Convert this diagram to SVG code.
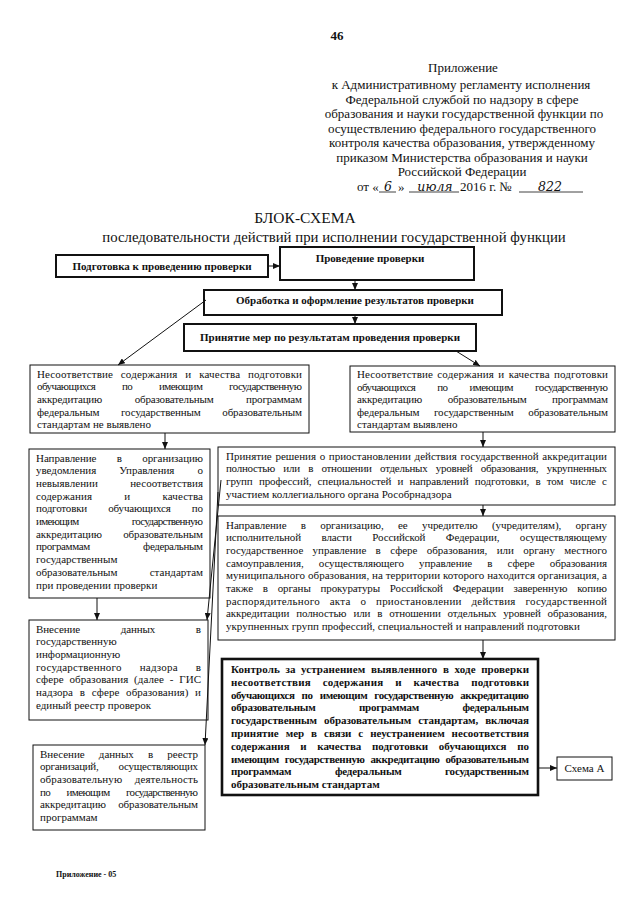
<svg xmlns="http://www.w3.org/2000/svg" width="640" height="905" viewBox="0 0 640 905">
<style>
text{font-family:"Liberation Serif","Times New Roman",serif;fill:#111}
.h{font-size:13px}
.ti{font-size:15.5px}
.st{font-size:14.8px}
.t{font-size:11px}
.b{font-size:11px;font-weight:bold}
.hw{font-family:"DejaVu Serif","Liberation Serif",serif;font-style:italic;font-size:12.5px}
.box{fill:#fff;stroke:#111;stroke-width:1}
.thick{fill:#fff;stroke:#111;stroke-width:2}
.xthick{fill:#fff;stroke:#111;stroke-width:2.6}
.c{stroke:#111;stroke-width:1;fill:none}
.u{stroke:#111;stroke-width:0.8}
</style>
<defs>
<marker id="a" markerWidth="7" markerHeight="6" refX="7" refY="3" orient="auto" markerUnits="userSpaceOnUse"><path d="M0,0L7,3L0,6Z" fill="#111"/></marker>
</defs>
<rect width="640" height="905" fill="#fff"/>
<g id="header">
<text x="337" y="40" class="h" font-weight="bold" text-anchor="middle">46</text>
<g class="h" text-anchor="middle">
<text x="463" y="72">Приложение</text>
<text x="461" y="89">к Административному регламенту исполнения</text>
<text x="462" y="103.5">Федеральной службой по надзору в сфере</text>
<text x="464" y="118">образования и науки государственной функции по</text>
<text x="462" y="132.5">осуществлению федерального государственного</text>
<text x="462" y="147">контроля качества образования, утвержденному</text>
<text x="462" y="161.5">приказом Министерства образования и науки</text>
<text x="462" y="176">Российской Федерации</text>
</g>
<text x="357" y="191" class="h">от «</text>
<line x1="379" y1="192" x2="396" y2="192" class="u"/>
<text x="388" y="191" class="hw" text-anchor="middle">6</text>
<text x="398" y="191" class="h">»</text>
<line x1="409" y1="192" x2="459" y2="192" class="u"/>
<text x="435" y="191" class="hw" text-anchor="middle">июля</text>
<text x="460" y="191" class="h">2016 г. №</text>
<line x1="519" y1="192" x2="583" y2="192" class="u"/>
<text x="550" y="191" class="hw" text-anchor="middle">822</text>
<text x="305" y="223" class="ti" text-anchor="middle">БЛОК-СХЕМА</text>
<text x="334" y="242" class="st" text-anchor="middle">последовательности действий при исполнении государственной функции</text>
</g>
<g id="n1"><rect x="56" y="255" width="212" height="22" class="thick"/><text x="162" y="270" class="b" text-anchor="middle">Подготовка к проведению проверки</text></g>
<g id="n2"><rect x="280" y="247" width="194" height="33" class="thick"/><text x="370" y="262" class="b" text-anchor="middle">Проведение проверки</text></g>
<g id="n3"><rect x="204" y="290" width="298" height="25" class="thick"/><text x="355" y="304" class="b" text-anchor="middle">Обработка  и оформление результатов проверки</text></g>
<g id="n4"><rect x="184" y="324" width="292" height="27" class="thick"/><text x="330" y="341" class="b" text-anchor="middle">Принятие мер по результатам проведения проверки</text></g>
<g id="n5"><rect x="30" y="365" width="279" height="68" class="box"/>
<g class="t">
<text x="37" y="377.5" word-spacing="5" textLength="265" lengthAdjust="spacing">Несоответствие содержания и качества подготовки</text>
<text x="37" y="390.2" word-spacing="24.5" textLength="265" lengthAdjust="spacing">обучающихся по имеющим государственную</text>
<text x="37" y="402.9" word-spacing="30" textLength="265" lengthAdjust="spacing">аккредитацию образовательным программам</text>
<text x="37" y="415.6" word-spacing="19" textLength="265" lengthAdjust="spacing">федеральным государственным образовательным</text>
<text x="37" y="428.3">стандартам не выявлено</text>
</g></g>
<g id="n6"><rect x="350" y="366" width="265" height="66" class="box"/>
<g class="t">
<text x="357" y="378" word-spacing="1.5" textLength="251" lengthAdjust="spacing">Несоответствие содержания и качества подготовки</text>
<text x="357" y="390.5" word-spacing="19.8" textLength="251" lengthAdjust="spacing">обучающихся по имеющим государственную</text>
<text x="357" y="403" word-spacing="23" textLength="251" lengthAdjust="spacing">аккредитацию образовательным программам</text>
<text x="357" y="415.5" word-spacing="12" textLength="251" lengthAdjust="spacing">федеральным государственным образовательным</text>
<text x="357" y="428">стандартам выявлено</text>
</g></g>
<g id="n7"><rect x="29" y="449" width="181" height="149" class="box"/>
<g class="t">
<text x="36" y="461.5" word-spacing="17.7" textLength="167" lengthAdjust="spacing">Направление в организацию</text>
<text x="36" y="474.2" word-spacing="20.4" textLength="167" lengthAdjust="spacing">уведомления Управления о</text>
<text x="36" y="486.9" word-spacing="29.5" textLength="167" lengthAdjust="spacing">невыявлении несоответствия</text>
<text x="36" y="499.6" word-spacing="29.5" textLength="167" lengthAdjust="spacing">содержания и качества</text>
<text x="36" y="512.3" word-spacing="18.7" textLength="167" lengthAdjust="spacing">подготовки обучающихся по</text>
<text x="36" y="525" word-spacing="51" textLength="167" lengthAdjust="spacing">имеющим государственную</text>
<text x="36" y="537.7" word-spacing="18.7" textLength="167" lengthAdjust="spacing">аккредитацию образовательным</text>
<text x="36" y="550.4" word-spacing="51" textLength="167" lengthAdjust="spacing">программам федеральным</text>
<text x="36" y="563.1">государственным</text>
<text x="36" y="575.8" word-spacing="29.5" textLength="167" lengthAdjust="spacing">образовательным стандартам</text>
<text x="36" y="588.5">при проведении проверки</text>
</g></g>
<g id="n8"><rect x="218" y="447" width="397" height="58" class="box"/>
<g class="t">
<text x="226" y="459.5" word-spacing="1" textLength="381" lengthAdjust="spacing">Принятие решения о приостановлении действия государственной аккредитации</text>
<text x="226" y="472.2" word-spacing="5.9" textLength="381" lengthAdjust="spacing">полностью или в отношении отдельных уровней образования, укрупненных</text>
<text x="226" y="484.9" word-spacing="3.6" textLength="381" lengthAdjust="spacing">групп профессий, специальностей и направлений подготовки, в том числе с</text>
<text x="226" y="497.6">участием коллегиального органа Рособрнадзора</text>
</g></g>
<g id="n9"><rect x="218" y="516" width="397" height="124" class="box" stroke-width="1.3"/>
<g class="t">
<text x="226" y="528.5" word-spacing="11.6" textLength="381" lengthAdjust="spacing">Направление в организацию, ее учредителю (учредителям), органу</text>
<text x="226" y="541.2" word-spacing="18" textLength="381" lengthAdjust="spacing">исполнительной власти Российской Федерации, осуществляющему</text>
<text x="226" y="553.9" word-spacing="6.6" textLength="381" lengthAdjust="spacing">государственное управление в сфере образования, или органу местного</text>
<text x="226" y="566.6" word-spacing="12.5" textLength="381" lengthAdjust="spacing">самоуправления, осуществляющего управление в сфере образования</text>
<text x="226" y="579.3" textLength="381" lengthAdjust="spacing">муниципального образования, на территории  которого находится организация, а</text>
<text x="226" y="592" word-spacing="7.2" textLength="381" lengthAdjust="spacing">также в органы прокуратуры Российской Федерации заверенную копию</text>
<text x="226" y="604.7" word-spacing="6.9" textLength="381" lengthAdjust="spacing">распорядительного акта  о приостановлении действия государственной</text>
<text x="226" y="617.4" word-spacing="4.3" textLength="381" lengthAdjust="spacing">аккредитации полностью или в отношении отдельных уровней образования,</text>
<text x="226" y="630.1">укрупненных групп профессий, специальностей и направлений подготовки</text>
</g></g>
<g id="n10"><rect x="29" y="620" width="179" height="100" class="box"/>
<g class="t">
<text x="36" y="632.5" word-spacing="38" textLength="165" lengthAdjust="spacing">Внесение данных в</text>
<text x="36" y="645.2">государственную</text>
<text x="36" y="657.9">информационную</text>
<text x="36" y="670.6" word-spacing="15" textLength="165" lengthAdjust="spacing">государственного надзора в</text>
<text x="36" y="683.3" word-spacing="2.9" textLength="165" lengthAdjust="spacing">сфере образования (далее - ГИС</text>
<text x="36" y="696" word-spacing="3.9" textLength="165" lengthAdjust="spacing">надзора в сфере образования) и</text>
<text x="36" y="708.7">единый реестр проверок</text>
</g></g>
<g id="n11"><rect x="222" y="659" width="316" height="136" class="xthick"/>
<g class="b">
<text x="231" y="673" word-spacing="2.8" textLength="298" lengthAdjust="spacing">Контроль за устранением выявленного в ходе проверки</text>
<text x="231" y="685.8" word-spacing="9" textLength="298" lengthAdjust="spacing">несоответствия содержания и качества подготовки</text>
<text x="231" y="698.6" word-spacing="4.7" textLength="298" lengthAdjust="spacing">обучающихся по имеющим государственную аккредитацию</text>
<text x="231" y="711.4" word-spacing="41" textLength="298" lengthAdjust="spacing">образовательным программам федеральным</text>
<text x="231" y="724.2" word-spacing="4.3" textLength="298" lengthAdjust="spacing">государственным образовательным стандартам, включая</text>
<text x="231" y="737" word-spacing="4.2" textLength="298" lengthAdjust="spacing">принятие мер в связи с неустранением несоответствия</text>
<text x="231" y="749.8" word-spacing="7.9" textLength="298" lengthAdjust="spacing">содержания и качества подготовки обучающихся по</text>
<text x="231" y="762.6" word-spacing="3.3" textLength="298" lengthAdjust="spacing">имеющим государственную аккредитацию образовательным</text>
<text x="231" y="775.4" word-spacing="41" textLength="298" lengthAdjust="spacing">программам федеральным государственным</text>
<text x="231" y="788.2">образовательным стандартам</text>
</g></g>
<g id="n12"><rect x="557" y="757" width="55" height="23" class="box"/><text x="584.5" y="772" class="t" text-anchor="middle">Схема А</text></g>
<g id="n13"><rect x="33" y="745" width="172" height="85" class="box"/>
<g class="t">
<text x="40" y="757.5" word-spacing="11.5" textLength="158" lengthAdjust="spacing">Внесение данных в реестр</text>
<text x="40" y="770.2" word-spacing="17.7" textLength="158" lengthAdjust="spacing">организаций, осуществляющих</text>
<text x="40" y="782.9" word-spacing="9.7" textLength="158" lengthAdjust="spacing">образовательную деятельность</text>
<text x="40" y="795.6" word-spacing="14.3" textLength="158" lengthAdjust="spacing">по имеющим государственную</text>
<text x="40" y="808.3" word-spacing="9.7" textLength="158" lengthAdjust="spacing">аккредитацию образовательным</text>
<text x="40" y="821">программам</text>
</g></g>
<g id="connectors" class="c" marker-end="url(#a)">
<line x1="268" y1="266" x2="280" y2="266"/>
<line x1="355" y1="280" x2="355" y2="290"/>
<line x1="355" y1="315" x2="355" y2="324"/>
<line x1="206" y1="300" x2="118" y2="365"/>
<line x1="456" y1="351" x2="480" y2="366"/>
<line x1="165" y1="433" x2="165" y2="449"/>
<line x1="483" y1="432" x2="483" y2="447"/>
<line x1="483" y1="505" x2="483" y2="516"/>
<line x1="483" y1="640" x2="483" y2="659"/>
<line x1="97" y1="598" x2="97" y2="620"/>
<line x1="221" y1="480" x2="207" y2="620"/>
<line x1="218" y1="492" x2="205" y2="745"/>
<line x1="538" y1="768" x2="557" y2="768"/>
</g>
<text x="56" y="877" font-size="8" font-weight="bold">Приложение - 05</text>
</svg>
